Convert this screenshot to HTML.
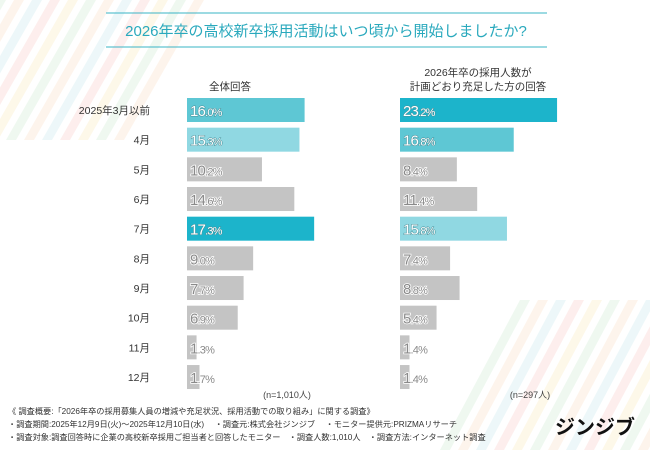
<!DOCTYPE html>
<html><head><meta charset="utf-8"><style>
body{margin:0;background:#fff}
svg{display:block;font-family:"Liberation Sans","Noto Sans CJK JP",sans-serif}
</style></head><body>
<svg width="650" height="450" viewBox="0 0 650 450">
<g id="deco" opacity="0.18"></g>
<line x1="106" y1="13" x2="547" y2="13" stroke="#3ab4c6" stroke-width="1"/>
<line x1="106" y1="47" x2="547" y2="47" stroke="#3ab4c6" stroke-width="1"/>
<text x="326" y="36" text-anchor="middle" font-size="15" fill="#2aa9bd">2026年卒の高校新卒採用活動はいつ頃から開始しましたか?</text>
<text x="230" y="90" text-anchor="middle" font-size="10.5" fill="#333">全体回答</text>
<text x="478" y="76" text-anchor="middle" font-size="10.5" fill="#333">2026年卒の採用人数が</text>
<text x="478" y="90" text-anchor="middle" font-size="10.5" fill="#333">計画どおり充足した方の回答</text>
<g id="bars"></g>
<text x="287" y="398" text-anchor="middle" font-size="9" fill="#444">(n=1,010人)</text>
<text x="530" y="398" text-anchor="middle" font-size="9" fill="#444">(n=297人)</text>
<g font-size="8.2" fill="#333">
<text x="8" y="414">《 調査概要:「2026年卒の採用募集人員の増減や充足状況、採用活動での取り組み」に関する調査》</text>
<text x="8" y="427">・調査期間:2025年12月9日(火)～2025年12月10日(水)　 ・調査元:株式会社ジンジブ　 ・モニター提供元:PRIZMAリサーチ</text>
<text x="8" y="440">・調査対象:調査回答時に企業の高校新卒採用ご担当者と回答したモニター　・調査人数:1,010人　・調査方法:インターネット調査</text>
</g>
<text x="595" y="434" text-anchor="middle" font-size="20" font-weight="bold" fill="#111">ジンジブ</text>
</svg>
<script>
const categories=["2025年3月以前","4月","5月","6月","7月","8月","9月","10月","11月","12月"];
const overallValues=[16.0,15.3,10.2,14.6,17.3,9.0,7.7,6.9,1.3,1.7];
const fulfilledValues=[23.2,16.8,8.4,11.4,15.8,7.4,8.8,5.4,1.4,1.4];
const NS="http://www.w3.org/2000/svg";
const g=document.getElementById('bars');
const rowY=i=>110+i*29.67;
const xL=v=>v*7.35, xR=v=>v*6.77;
const leftColors={0:"#5ec7d4",1:"#90d8e2",4:"#1cb4cb"};
const rightColors={0:"#1cb4cb",1:"#5ec7d4",4:"#90d8e2"};
function mk(tag,attrs){const e=document.createElementNS(NS,tag);for(const k in attrs)e.setAttribute(k,attrs[k]);return e;}
function bar(x0,w,y,color,val,name){
  const r=mk('rect',{x:x0,y:y-12,width:w,height:24,fill:color});
  
  
  g.appendChild(r);
  const colored=color!=="#c4c4c4";
  const t=mk('text',{x:x0+3,y:y+6,'font-size':15,fill:colored?'#fff':'#8a8a8a',stroke:colored?'#4a8f99':'#fff','stroke-width':colored?1:1.6,'paint-order':'stroke','letter-spacing':'-0.8'});
  
  
  const s=val.toFixed(1);const i=s.indexOf('.');
  t.appendChild(document.createTextNode(s.slice(0,i)));
  const sm=mk('tspan',{'font-size':11});sm.textContent=s.slice(i)+'%';t.appendChild(sm);
  g.appendChild(t);
}
categories.forEach((c,i)=>{
  const y=rowY(i);
  const t=mk('text',{x:150,y:y+4,'text-anchor':'end','font-size':10.5,fill:'#333'});
  
  
  t.textContent=c;g.appendChild(t);
  bar(187,xL(overallValues[i]),y,leftColors[i]||"#c4c4c4",overallValues[i],'overall-bar');
  bar(400,xR(fulfilledValues[i]),y,rightColors[i]||"#c4c4c4",fulfilledValues[i],'fulfilled-bar');
});
const d=document.getElementById('deco');
const cols=["#f6a7a0","#f8d98a","#a8dcb0","#f9c59a","#9fd8e0"];
for(let k=0;k<14;k++){
  const p=mk('polygon',{points:`${-40+k*18},0 ${-30+k*18},0 ${-110+k*18},140 ${-120+k*18},140`,fill:cols[k%5]});
  d.appendChild(p);
  const q=mk('polygon',{points:`${440+k*18},450 ${450+k*18},450 ${530+k*18},300 ${520+k*18},300`,fill:cols[(k+2)%5]});
  d.appendChild(q);
}
</script>
</body></html>
